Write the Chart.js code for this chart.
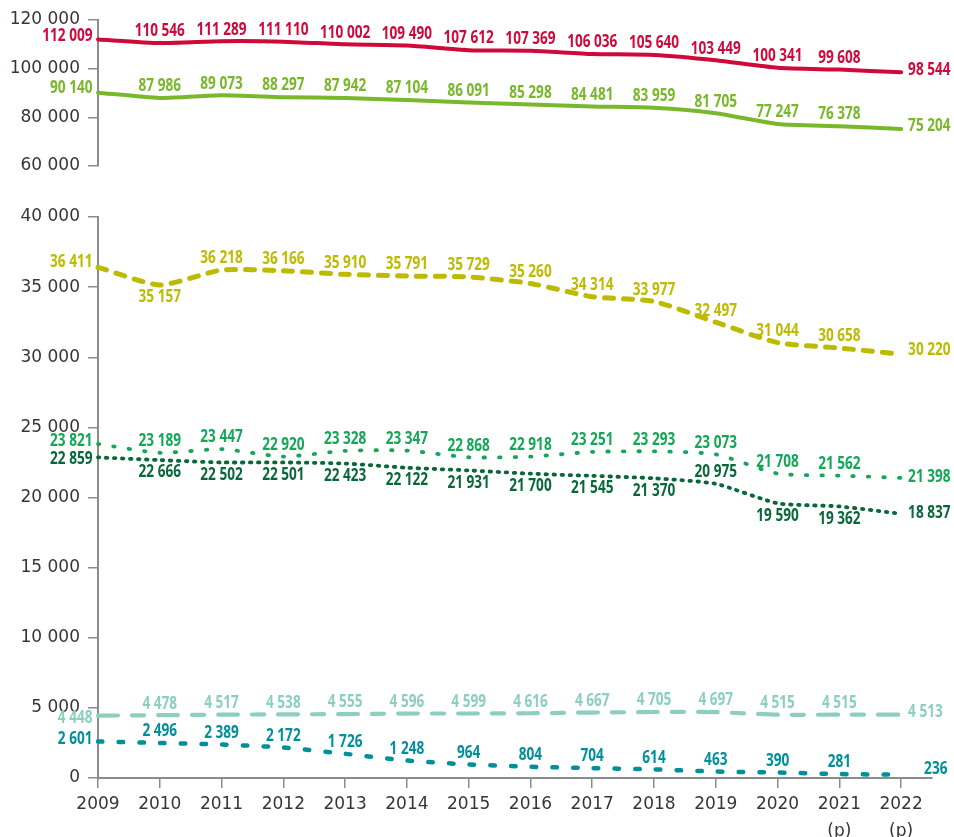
<!DOCTYPE html>
<html><head><meta charset="utf-8">
<script src="https://cdn.jsdelivr.net/npm/chart.js@4/dist/chart.umd.min.js"></script>
<style>
html,body{margin:0;padding:0;background:#fff;}
#wrap{position:relative;width:954px;height:837px;overflow:hidden;background:#fff;}
canvas{position:absolute;left:0;top:0;}
</style></head><body>
<div id="wrap"><canvas id="cTop"></canvas><canvas id="cBot"></canvas></div>
<script>
// ---- data ----
const years = [2009,2010,2011,2012,2013,2014,2015,2016,2017,2018,2019,2020,2021,2022];
const projectedYears = [2021,2022];
const seriesRed    = [112009,110546,111289,111110,110002,109490,107612,107369,106036,105640,103449,100341,99608,98544];
const seriesLime   = [90140,87986,89073,88297,87942,87104,86091,85298,84481,83959,81705,77247,76378,75204];
const seriesOlive  = [36411,35157,36218,36166,35910,35791,35729,35260,34314,33977,32497,31044,30658,30220];
const seriesMedGreen  = [23821,23189,23447,22920,23328,23347,22868,22918,23251,23293,23073,21708,21562,21398];
const seriesDarkGreen = [22859,22666,22502,22501,22423,22122,21931,21700,21545,21370,20975,19590,19362,18837];
const seriesLightTeal = [4448,4478,4517,4538,4555,4596,4599,4616,4667,4705,4697,4515,4515,4513];
const seriesTeal      = [2601,2496,2389,2172,1726,1248,964,804,704,614,463,390,281,236];
const topTicks = [60000,80000,100000,120000];
const botTicks = [0,5000,10000,15000,20000,25000,30000,35000,40000];

// ---- label placement (style) ----
const P_STD   = ['l','a','a','a','a','a','a','a','a','a','a','a','a','r'];
const P_OLIVE = ['l','b','a','a','a','a','a','a','a','a','a','a','a','r'];
const P_DARK  = ['l','b','b','b','b','b','b','b','b','b','a','b','b','r'];

function fmt(v){ return String(v).replace(/\B(?=(\d{3})+(?!\d))/g,' '); }
function pts(vals){ return years.map((y,i)=>({x:y,y:vals[i]})); }

const LABEL_FONT = '700 17px "Open Sans", Roboto, sans-serif';
const LABEL_SX = 0.8;
const TICK_FONT = {family:'"DejaVu Sans", sans-serif', size:17, lineHeight:1.6};
const AXIS_COLOR = '#8c8c8c';
const TEXT_COLOR = '#3a3535';

const labelPlugin = {
  id:'vlabels',
  afterDatasetsDraw(chart){
    const ctx = chart.ctx;
    chart.data.datasets.forEach((ds,i)=>{
      const meta = chart.getDatasetMeta(i);
      meta.data.forEach((pt,j)=>{
        const code = ds.place[j];
        let x = pt.x, y = pt.y, align = 'center';
        if(code==='a') y -= 11.5;
        else if(code==='b') y += 12.5;
        else if(code==='l'){ x -= 5.5; y += ds.ldy; align='right'; }
        else if(code==='r'){ x += ds.rdx; y += ds.rdy; align='left'; }
        ctx.save();
        ctx.font = LABEL_FONT;
        ctx.fillStyle = ds.borderColor;
        ctx.textAlign = align;
        ctx.textBaseline = 'middle';
        ctx.translate(x, y);
        ctx.scale(LABEL_SX, 1);
        ctx.fillText(fmt(ds.data[j].y), 0, 0);
        ctx.restore();
      });
    });
  }
};

function xScale(show){
  return {
    type:'linear', min:2009, max:2022.5, display:show,
    afterBuildTicks: s => { s.ticks = years.map(v=>({value:v})); },
    afterFit: s => { if(show) s.height = 59; },
    grid:{drawOnChartArea:false, drawTicks:true, tickLength:10, color:AXIS_COLOR, lineWidth:1.5},
    border:{display:true, color:AXIS_COLOR, width:2},
    ticks:{padding:3, color:TEXT_COLOR, font:TICK_FONT, maxRotation:0, autoSkip:false,
      callback: v => projectedYears.includes(v) ? [String(v),'(p)'] : String(v)}
  };
}
function yScale(min,max,tickVals){
  return {
    type:'linear', min:min, max:max,
    afterBuildTicks: s => { s.ticks = tickVals.map(v=>({value:v})); },
    afterFit: s => { s.width = 98; },
    grid:{drawOnChartArea:false, drawTicks:true, tickLength:10, color:AXIS_COLOR, lineWidth:1.5},
    border:{display:true, color:AXIS_COLOR, width:2},
    ticks:{padding:8, color:TEXT_COLOR, font:{family:'"DejaVu Sans", sans-serif', size:17}, callback: v => fmt(v)}
  };
}
function line(vals,color,opts){
  return Object.assign({
    data:pts(vals), borderColor:color, backgroundColor:color, borderWidth:4,
    pointRadius:0, tension:0.2, fill:false, clip:false,
    borderCapStyle:'round', borderJoinStyle:'round',
    place:P_STD, ldy:-3, rdx:7, rdy:-3
  }, opts||{});
}

const common = {
  responsive:false, animation:false, devicePixelRatio:1,
  plugins:{legend:{display:false}, tooltip:{enabled:false}},
  events:[]
};

function mk(id){
  const c = document.getElementById(id);
  c.width = 954; c.height = 837; c.style.width='954px'; c.style.height='837px';
  return c;
}

new Chart(mk('cTop'), {
  type:'line',
  data:{datasets:[
    line(seriesRed,'#d0093b',{ldy:-3, rdy:-2.5}),
    line(seriesLime,'#78b82a',{ldy:-5, rdy:-2.6})
  ]},
  options:Object.assign({}, common, {
    layout:{padding:{top:20,bottom:671,left:0,right:22}},
    scales:{x:xScale(false), y:yScale(60000,120000,topTicks)}
  }),
  plugins:[labelPlugin]
});

new Chart(mk('cBot'), {
  type:'line',
  data:{datasets:[
    line(seriesOlive,'#bdbb00',{borderWidth:5, borderDash:[9,10], place:P_OLIVE, ldy:-5.5, rdy:-4}),
    line(seriesMedGreen,'#14a757',{borderWidth:3.8, borderDash:[1.5,14], ldy:-3, rdy:-1}),
    line(seriesDarkGreen,'#08683a',{borderWidth:3.8, borderDash:[1.5,6.5], place:P_DARK, ldy:1.5, rdy:-1}),
    line(seriesLightTeal,'#8dcfbf',{borderWidth:4.2, borderDash:[20,14,12,14], ldy:2.5, rdy:-3}),
    line(seriesTeal,'#00909b',{borderWidth:4.5, borderDash:[4.5,16.2], ldy:-2, rdx:23, rdy:-6})
  ]},
  options:Object.assign({}, common, {
    layout:{padding:{top:217,bottom:0,left:0,right:22}},
    scales:{x:xScale(true), y:yScale(0,40000,botTicks)}
  }),
  plugins:[labelPlugin]
});
</script>
</body></html>
